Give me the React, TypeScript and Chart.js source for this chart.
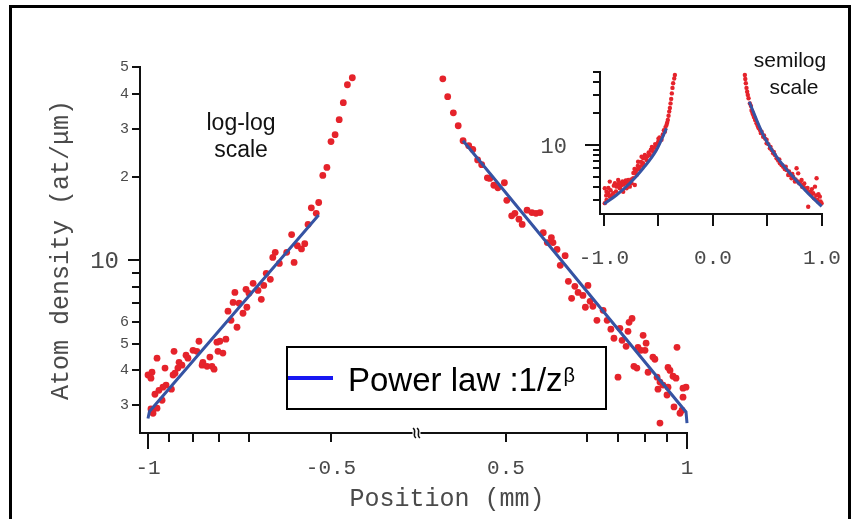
import React, { useEffect, useRef } from "react";
import { Chart, registerables } from "chart.js";
Chart.register(...registerables);

// ---------- main plot (log-log, broken x axis) ----------
// axis calibration of the printed broken axis: tick values (mm) and their spacing along the axis
const X_TICK_MM = [-1, -0.9, -0.8, -0.7, -0.6, -0.5, 0.5, 0.6, 0.7, 0.8, 0.9, 1];
const X_TICK_AXIS = [0, 21, 45, 71, 101, 183, 358, 439, 470, 497, 519, 539];
const X_TICK_LABELS = ["-1", "", "", "", "", "-0.5", "0.5", "", "", "", "", "1"];
const X_MAJOR = [-1, 1];

const Y_TICKS = [3, 4, 5, 6, 7, 8, 9, 10, 20, 30, 40, 50];
const Y_TICK_LABELS = ["3", "4", "5", "6", "", "", "", "10", "2", "3", "4", "5"];

const LEFT_X = [-0.474, -0.48, -0.485, -0.49, -0.495, -0.5, -0.505, -0.51, -0.515, -0.524, -0.518, -0.528, -0.548, -0.541, -0.536, -0.532, -0.568, -0.554, -0.571, -0.563, -0.545, -0.579, -0.574, -0.582, -0.595, -0.589, -0.61, -0.647, -0.6, -0.585, -0.607, -0.62, -0.633, -0.653, -0.67, -0.66, -0.64, -0.697, -0.677, -0.708, -0.704, -0.687, -0.777, -0.8, -0.785, -0.829, -0.821, -0.879, -0.957, -0.735, -0.762, -0.765, -0.746, -0.727, -0.719, -0.858, -0.846, -0.863, -0.875, -0.883, -0.919, -0.981, -1.0, -0.986, -0.914, -0.929, -0.89, -0.948, -0.967, -0.933, -0.957, -0.976, -0.986];
const LEFT_Y = [45.8, 43.2, 37.2, 32.3, 28.5, 26.9, 21.7, 20.3, 16.2, 15.5, 14.8, 13.5, 12.4, 11.3, 11.0, 11.5, 10.7, 10.7, 10.25, 9.75, 9.83, 8.98, 8.54, 8.12, 8.26, 7.79, 7.86, 7.66, 7.6, 7.23, 6.77, 6.44, 7.0, 7.05, 6.55, 6.07, 5.73, 5.1, 5.19, 5.06, 4.69, 4.62, 5.1, 4.73, 4.69, 4.54, 4.43, 4.69, 4.43, 4.47, 4.28, 4.18, 4.14, 4.14, 4.04, 4.28, 4.18, 4.08, 3.91, 3.85, 4.08, 3.94, 3.85, 3.75, 3.54, 3.48, 3.42, 3.39, 3.28, 3.12, 2.92, 2.8, 2.9];

const RIGHT_X = [0.422, 0.428, 0.435, 0.441, 0.447, 0.454, 0.459, 0.465, 0.47, 0.477, 0.48, 0.485, 0.49, 0.498, 0.501, 0.507, 0.511, 0.516, 0.52, 0.526, 0.532, 0.537, 0.542, 0.546, 0.551, 0.556, 0.558, 0.563, 0.573, 0.567, 0.577, 0.585, 0.589, 0.603, 0.581, 0.595, 0.61, 0.598, 0.619, 0.652, 0.632, 0.665, 0.752, 0.741, 0.677, 0.707, 0.737, 0.687, 0.715, 0.73, 0.793, 0.805, 0.774, 0.785, 0.8, 0.95, 0.836, 0.845, 0.759, 0.77, 0.814, 0.905, 0.915, 0.93, 0.945, 0.855, 0.7, 0.868, 0.882, 0.859, 0.905, 0.995, 0.98, 0.9, 0.98, 0.935, 0.975, 0.965, 0.868];
const RIGHT_Y = [45.4, 39.1, 34.2, 30.7, 27.1, 26.0, 25.2, 23.1, 22.2, 19.9, 19.8, 18.7, 18.3, 19.1, 16.5, 14.5, 14.8, 14.1, 13.5, 15.2, 14.9, 14.8, 14.9, 12.6, 11.6, 12.1, 11.6, 10.96, 10.4, 9.6, 8.4, 8.06, 7.66, 8.12, 7.29, 7.47, 7.11, 6.77, 6.82, 6.6, 6.07, 6.07, 6.17, 5.97, 5.64, 5.68, 5.54, 5.23, 5.14, 4.89, 5.36, 5.02, 4.85, 4.73, 4.73, 4.85, 4.47, 4.39, 4.14, 4.08, 3.94, 4.1, 4.0, 3.81, 3.75, 3.78, 3.78, 3.63, 3.54, 3.42, 3.48, 3.48, 3.45, 3.26, 3.2, 2.95, 2.87, 2.8, 2.58];

const FIT_LEFT_X = [-1, -0.993, -0.515];
const FIT_LEFT_Y = [2.68, 2.84, 14.6];
const FIT_RIGHT_X = [0.447, 0.995, 1.0];
const FIT_RIGHT_Y = [27.1, 2.83, 2.58];

// ---------- inset (semilog) ----------
const INSET_X_TICKS = [-1, -0.5, 0, 0.5, 1];
const INSET_X_LABELS = ["-1.0", "", "0.0", "", "1.0"];
const INSET_Y_TICKS = [3, 4, 5, 6, 7, 8, 9, 10, 20, 30, 40, 50];
const INSET_Y_LABELS = ["", "", "", "", "", "", "", "10", "", "", "", ""];

const INSET_LEFT_X = [-0.349, -0.355, -0.365, -0.371, -0.377, -0.383, -0.389, -0.395, -0.401, -0.407, -0.414, -0.42, -0.426, -0.441, -0.472, -0.503, -0.518, -0.549, -0.563, -0.579, -0.609, -0.625, -0.64, -0.64, -0.655, -0.671, -0.687, -0.701, -0.701, -0.717, -0.732, -0.747, -0.763, -0.778, -0.793, -0.809, -0.824, -0.839, -0.855, -0.87, -0.885, -0.9, -0.916, -0.947, -0.947, -0.962, -0.977, -0.977, -0.993, -0.993,
  -0.98, -0.96, -0.94, -0.93, -0.91, -0.89, -0.87, -0.86, -0.85, -0.83, -0.82, -0.8, -0.79, -0.77, -0.75, -0.73, -0.72, -0.71, -0.69, -0.68, -0.66, -0.65, -0.62, -0.6, -0.59, -0.57, -0.56, -0.54, -0.53, -0.5, -0.49, -0.46, -0.45, -0.435];
const INSET_LEFT_Y = [46.4, 43, 38.7, 35, 31, 27.5, 24.9, 22.5, 20.8, 19, 17.3, 16.3, 15.5, 13.4, 11.2, 10.7, 10, 8.63, 8.96, 8.03, 7.2, 8.03, 7.46, 6.7, 7.74, 6.21, 6.93, 5.78, 5.18, 4.16, 4.82, 4.32, 4.01, 4.64, 3.87, 4.48, 3.59, 4.16, 3.87, 4.64, 4.01, 4.32, 3.47, 4.48, 3.22, 3.47, 3.59, 2.99, 3.87, 2.79,
  3.3, 3.9, 3.7, 3.3, 4.1, 3.6, 4.2, 4.4, 4.0, 4.5, 4.2, 4.6, 4.3, 4.4, 4.7, 5.4, 5.9, 5.5, 6.3, 5.9, 6.9, 6.4, 7.6, 7.8, 8.5, 9.0, 9.6, 9.4, 10.2, 11.5, 11.8, 12.6, 13.8, 14.8];
const INSET_RIGHT_X = [0.294, 0.298, 0.303, 0.309, 0.315, 0.321, 0.328, 0.34, 0.355, 0.366, 0.377, 0.39, 0.401, 0.415, 0.432, 0.448, 0.462, 0.494, 0.494, 0.524, 0.54, 0.554, 0.57, 0.585, 0.616, 0.631, 0.646, 0.677, 0.692, 0.708, 0.723, 0.738, 0.754, 0.769, 0.784, 0.793, 0.815, 0.83, 0.846, 0.861, 0.876, 0.892, 0.907, 0.922, 0.938, 0.953, 0.968, 0.983, 0.999,
  0.35, 0.36, 0.37, 0.385, 0.41, 0.42, 0.44, 0.47, 0.48, 0.51, 0.53, 0.56, 0.6, 0.61, 0.64, 0.66, 0.67, 0.7, 0.73, 0.76, 0.78, 0.8, 0.82, 0.84, 0.87, 0.9, 0.91, 0.93, 0.95, 0.96, 0.97, 0.99];
const INSET_RIGHT_Y = [46.4, 42.5, 38.7, 35, 32.2, 30, 27.9, 24.9, 21.5, 20, 18.6, 17.2, 16.1, 15, 13.9, 13.4, 12, 11.2, 10.4, 9.3, 8.96, 8.34, 8.03, 7.46, 6.7, 6.45, 6.21, 5.78, 5.18, 5.18, 4.82, 4.99, 4.48, 6.0, 5.37, 4.32, 4.64, 4.16, 3.87, 3.73, 2.58, 3.59, 3.34, 3.47, 4.01, 4.82, 2.88, 3.22, 2.79,
  23.5, 21, 19.5, 18, 15.5, 14.5, 13, 12.3, 11.5, 10.2, 9.6, 8.6, 7.1, 7.3, 6.4, 5.9, 6.2, 5.6, 5.3, 4.7, 4.5, 4.4, 4.0, 4.3, 3.9, 3.5, 3.8, 3.1, 3.3, 3.0, 3.4, 2.9];
const INSET_FIT_LEFT_X = [-1, -0.885, -0.763, -0.64, -0.518, -0.426];
const INSET_FIT_LEFT_Y = [2.74, 3.34, 4.32, 6.0, 8.96, 14.4];
const INSET_FIT_RIGHT_X = [0.334, 0.462, 0.585, 0.708, 0.861, 1.0];
const INSET_FIT_RIGHT_Y = [25.8, 12.5, 7.74, 5.37, 3.59, 2.6];

const RED = "#e5232b";
const FIT_BLUE = "#3553a3";
const LEGEND_BLUE = "#1717f2";
const AXIS = "#111111";
const TEXT = "#4a4a4a";
const MONO = "'Liberation Mono', 'DejaVu Sans Mono', monospace";
const SANS = "'Liberation Sans', Arial, sans-serif";

// piecewise mapping of mm to the printed (broken) axis coordinate
function toAxis(z: number): number {
  const half = X_TICK_MM.length / 2;
  const ms = z < 0 ? X_TICK_MM.slice(0, half) : X_TICK_MM.slice(half);
  const ps = z < 0 ? X_TICK_AXIS.slice(0, half) : X_TICK_AXIS.slice(half);
  for (let i = 0; i < ms.length - 1; i++) {
    const a = ms[i], b = ms[i + 1];
    if (z >= Math.min(a, b) && z <= Math.max(a, b)) {
      return ps[i] + ((z - a) / (b - a)) * (ps[i + 1] - ps[i]);
    }
  }
  if (z < 0) {
    const i = ms.length - 2;
    return ps[i] + ((z - ms[i]) / (ms[i + 1] - ms[i])) * (ps[i + 1] - ps[i]);
  }
  return ps[0] + ((z - ms[0]) / (ms[1] - ms[0])) * (ps[1] - ps[0]);
}

const pts = (xs: number[], ys: number[], f: (v: number) => number = (v) => v) =>
  xs.map((x, i) => ({ x: f(x), y: ys[i] }));

const mainAxesPlugin = {
  id: "mainAxes",
  beforeDatasetsDraw(chart: any) {
    const ctx: CanvasRenderingContext2D = chart.ctx;
    const xs = chart.scales.x;
    const ys = chart.scales.y;
    const { left, right, top, bottom } = chart.chartArea;
    ctx.save();
    ctx.strokeStyle = AXIS;
    ctx.lineWidth = 2;
    ctx.beginPath();
    ctx.moveTo(left, top);
    ctx.lineTo(left, bottom);
    ctx.lineTo(right, bottom);
    ctx.stroke();
    // y ticks
    ctx.fillStyle = TEXT;
    ctx.textBaseline = "middle";
    ctx.textAlign = "right";
    Y_TICKS.forEach((v, i) => {
      const py = Math.round(ys.getPixelForValue(v));
      const major = v === 10;
      const len = major ? 12 : 8;
      ctx.beginPath();
      ctx.moveTo(left - len, py);
      ctx.lineTo(left, py);
      ctx.stroke();
      const lab = Y_TICK_LABELS[i];
      if (lab) {
        ctx.font = major ? `24px ${MONO}` : `15px ${MONO}`;
        ctx.fillText(lab, left - len - (major ? 9 : 3), py + (major ? 2 : 0));
      }
    });
    // x ticks
    ctx.textAlign = "center";
    ctx.font = `21px ${MONO}`;
    X_TICK_MM.forEach((v, i) => {
      const px = Math.round(xs.getPixelForValue(toAxis(v)));
      const len = X_MAJOR.includes(v) ? 16 : 9;
      ctx.beginPath();
      ctx.moveTo(px, bottom);
      ctx.lineTo(px, bottom + len);
      ctx.stroke();
      if (X_TICK_LABELS[i]) ctx.fillText(X_TICK_LABELS[i], px, 468);
    });
    // axis break mark
    const bx = xs.getPixelForValue((toAxis(-0.5) + toAxis(0.5)) / 2) - 2;
    ctx.fillStyle = "#ffffff";
    ctx.fillRect(bx - 4, bottom - 3, 8, 6);
    ctx.lineWidth = 1.5;
    [-2, 2].forEach((d) => {
      const cx = bx + d;
      ctx.beginPath();
      ctx.moveTo(cx - 1.5, bottom - 5);
      ctx.bezierCurveTo(cx + 3, bottom - 2, cx - 3, bottom + 2, cx + 1.5, bottom + 5);
      ctx.stroke();
    });
    ctx.restore();
  },
  afterDraw(chart: any) {
    const ctx: CanvasRenderingContext2D = chart.ctx;
    ctx.save();
    // axis titles
    ctx.fillStyle = TEXT;
    ctx.font = `25px ${MONO}`;
    ctx.textAlign = "center";
    ctx.textBaseline = "middle";
    ctx.fillText("Position (mm)", 447, 499);
    ctx.save();
    ctx.translate(61, 250);
    ctx.rotate(-Math.PI / 2);
    ctx.fillText("Atom density (at/\u03bcm)", 0, 0);
    ctx.restore();
    // annotations
    ctx.fillStyle = "#111111";
    ctx.font = `23px ${SANS}`;
    ctx.fillText("log-log", 241, 124);
    ctx.fillText("scale", 241, 151);
    ctx.font = `21px ${SANS}`;
    ctx.fillText("semilog", 790, 61);
    ctx.fillText("scale", 794, 88);
    // legend
    ctx.fillStyle = "#ffffff";
    ctx.fillRect(287, 347, 319, 62);
    ctx.strokeStyle = "#000000";
    ctx.lineWidth = 2;
    ctx.strokeRect(287, 347, 319, 62);
    ctx.strokeStyle = LEGEND_BLUE;
    ctx.lineWidth = 4;
    ctx.beginPath();
    ctx.moveTo(288, 378);
    ctx.lineTo(333, 378);
    ctx.stroke();
    ctx.fillStyle = "#000000";
    ctx.textAlign = "left";
    ctx.textBaseline = "alphabetic";
    ctx.font = `33px ${SANS}`;
    const label = "Power law :1/z";
    ctx.fillText(label, 348, 391);
    const w = ctx.measureText(label).width;
    ctx.font = `20px ${SANS}`;
    ctx.fillText("\u03b2", 348 + w + 1, 382);
    // frame
    ctx.strokeStyle = "#000000";
    ctx.lineWidth = 3;
    ctx.strokeRect(10.5, 6.5, 839, 600);
    ctx.restore();
  },
};

const insetAxesPlugin = {
  id: "insetAxes",
  beforeDatasetsDraw(chart: any) {
    const ctx: CanvasRenderingContext2D = chart.ctx;
    const xs = chart.scales.x;
    const ys = chart.scales.y;
    const { left, right, top, bottom } = chart.chartArea;
    ctx.save();
    ctx.strokeStyle = AXIS;
    ctx.lineWidth = 2;
    ctx.beginPath();
    ctx.moveTo(left, top);
    ctx.lineTo(left, bottom);
    ctx.lineTo(right, bottom);
    ctx.stroke();
    ctx.fillStyle = TEXT;
    ctx.textBaseline = "middle";
    ctx.textAlign = "right";
    ctx.font = `22px ${MONO}`;
    INSET_Y_TICKS.forEach((v, i) => {
      const py = Math.round(ys.getPixelForValue(v));
      const major = v === 10;
      const len = major ? 15 : 7;
      ctx.beginPath();
      ctx.moveTo(left - len, py);
      ctx.lineTo(left, py);
      ctx.stroke();
      if (INSET_Y_LABELS[i]) ctx.fillText(INSET_Y_LABELS[i], left - 33, py + 2);
    });
    ctx.textAlign = "center";
    ctx.font = `21px ${MONO}`;
    INSET_X_TICKS.forEach((v, i) => {
      const px = Math.round(xs.getPixelForValue(v));
      ctx.beginPath();
      ctx.moveTo(px, bottom);
      ctx.lineTo(px, bottom + 12);
      ctx.stroke();
      if (INSET_X_LABELS[i]) ctx.fillText(INSET_X_LABELS[i], px, bottom + 44);
    });
    ctx.restore();
  },
};

export default function App() {
  const mainRef = useRef<HTMLCanvasElement>(null);
  const insetRef = useRef<HTMLCanvasElement>(null);

  useEffect(() => {
    const main = new Chart(mainRef.current as HTMLCanvasElement, {
      type: "scatter",
      data: {
        datasets: [
          {
            data: pts(FIT_LEFT_X, FIT_LEFT_Y, toAxis),
            showLine: true,
            borderColor: FIT_BLUE,
            borderWidth: 3,
            pointRadius: 0,
            clip: false,
          } as any,
          {
            data: pts(FIT_RIGHT_X, FIT_RIGHT_Y, toAxis),
            showLine: true,
            borderColor: FIT_BLUE,
            borderWidth: 3,
            pointRadius: 0,
            clip: false,
          } as any,
          {
            data: pts(LEFT_X, LEFT_Y, toAxis),
            backgroundColor: RED,
            borderWidth: 0,
            pointRadius: 3.4,
            clip: false,
          } as any,
          {
            data: pts(RIGHT_X, RIGHT_Y, toAxis),
            backgroundColor: RED,
            borderWidth: 0,
            pointRadius: 3.4,
            clip: false,
          } as any,
        ],
      },
      options: {
        responsive: false,
        animation: false,
        devicePixelRatio: 1,
        layout: { padding: { left: 140, right: 164, top: 66, bottom: 86 } },
        scales: {
          x: { type: "linear", min: -8, max: 540, display: false },
          y: { type: "logarithmic", min: 2.375, max: 50.5, display: false },
        },
        plugins: { legend: { display: false }, tooltip: { enabled: false } },
      },
      plugins: [mainAxesPlugin],
    });

    const inset = new Chart(insetRef.current as HTMLCanvasElement, {
      type: "scatter",
      data: {
        datasets: [
          {
            data: pts(INSET_FIT_LEFT_X, INSET_FIT_LEFT_Y),
            showLine: true,
            borderColor: FIT_BLUE,
            borderWidth: 3,
            pointRadius: 0,
            cubicInterpolationMode: "monotone",
            clip: false,
          } as any,
          {
            data: pts(INSET_FIT_RIGHT_X, INSET_FIT_RIGHT_Y),
            showLine: true,
            borderColor: FIT_BLUE,
            borderWidth: 3,
            pointRadius: 0,
            cubicInterpolationMode: "monotone",
            clip: false,
          } as any,
          {
            data: pts(INSET_LEFT_X, INSET_LEFT_Y),
            backgroundColor: RED,
            borderWidth: 0,
            pointRadius: 2.2,
            clip: false,
          } as any,
          {
            data: pts(INSET_RIGHT_X, INSET_RIGHT_Y),
            backgroundColor: RED,
            borderWidth: 0,
            pointRadius: 2.2,
            clip: false,
          } as any,
        ],
      },
      options: {
        responsive: false,
        animation: false,
        devicePixelRatio: 1,
        layout: { padding: { left: 70, right: 29, top: 31, bottom: 66 } },
        scales: {
          x: { type: "linear", min: -1.037, max: 1.012, display: false },
          y: { type: "logarithmic", min: 2.2, max: 50.7, display: false },
        },
        plugins: { legend: { display: false }, tooltip: { enabled: false } },
      },
      plugins: [insetAxesPlugin],
    });

    return () => {
      main.destroy();
      inset.destroy();
    };
  }, []);

  return (
    <div style={{ position: "fixed", left: 0, top: 0, width: 852, height: 519, background: "#ffffff", overflow: "hidden" }}>
      <canvas ref={mainRef} width={852} height={519} style={{ position: "absolute", left: 0, top: 0 }} />
      <canvas ref={insetRef} width={322} height={240} style={{ position: "absolute", left: 530, top: 40 }} />
    </div>
  );
}
